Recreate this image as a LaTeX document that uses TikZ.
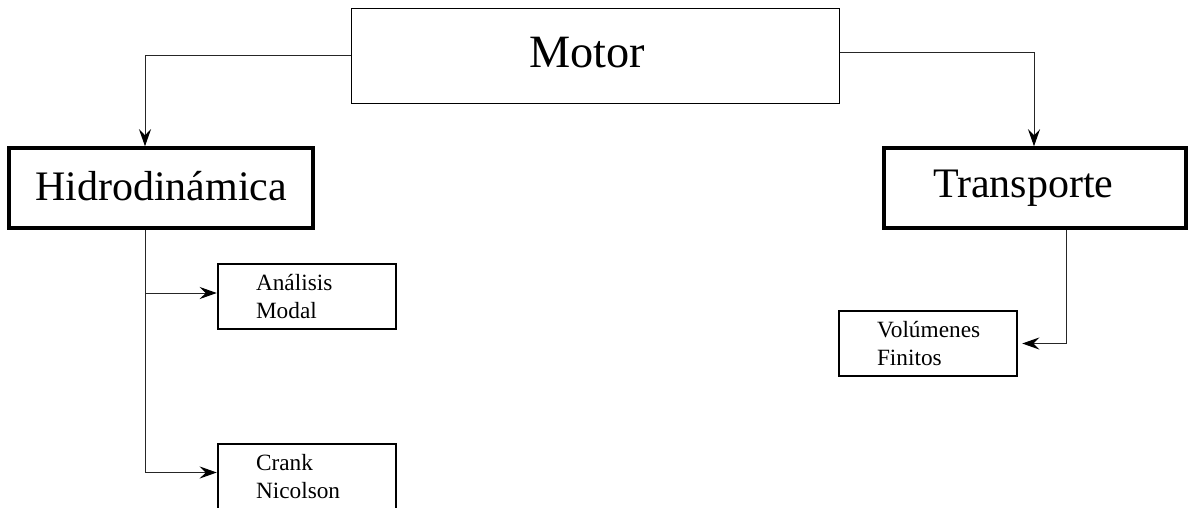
\documentclass[tikz,border=0pt]{standalone}
\usepackage{fontspec}
\setmainfont{Liberation Serif}
\usetikzlibrary{arrows.meta}
\begin{document}
\begin{tikzpicture}[x=1pt,y=-1pt,
  conn/.style={draw=black!85, line width=1pt},
  arr/.style={conn, -{Stealth[length=17pt,width=12pt,inset=6pt,color=black]}},
  bigbox/.style={draw, line width=3.5pt, rectangle, inner ysep=0pt, minimum height=80pt, font=\fontsize{42}{42}\selectfont},
  smallbox/.style={draw, line width=2.5pt, rectangle, inner ysep=0pt, inner xsep=38pt, text width=102pt, minimum width=178pt, minimum height=65pt, align=left, font=\fontsize{23.3}{28.5}\selectfont},
]
\useasboundingbox (0,0) rectangle (1188,507);
\node[draw, line width=1pt, rectangle, inner ysep=0pt, inner xsep=178pt, text width=132pt, align=left, minimum height=95pt, text height=32pt, text depth=9pt, font=\fontsize{46.3}{46.3}\selectfont] (motor) at (595,55.5) {Motor};
\node[bigbox, minimum width=304pt, text height=30pt, text depth=6pt] (hidro) at (161,188) {Hidrodinámica};
\node[bigbox, inner xsep=49pt, text width=204pt, align=left, text height=30pt, text depth=11pt] (trans) at (1035,188) {Transporte};
\node[smallbox] (analisis) at (307,296.5) {Análisis\\Modal};
\node[smallbox] (crank) at (307,476.5) {Crank\\Nicolson};
\node[smallbox] (vol) at (928,343.5) {Volúmenes\\Finitos};
\coordinate (ht) at ([xshift=-16pt]hidro.north);
\coordinate (me) at ([yshift=3.5pt]motor.east);
\coordinate (tt) at ([xshift=-1pt]trans.north);
\coordinate (hb) at ([xshift=-16pt]hidro.south);
\coordinate (aw) at ([yshift=3.5pt]analisis.west);
\coordinate (cw) at ([yshift=4pt]crank.west);
\coordinate (tb) at ([xshift=31pt]trans.south);
\draw[arr] (motor.west) -| (ht);
\draw[arr] (me) -| (tt);
\draw[arr] (hb) |- (cw);
\draw[arr] (hb |- aw) -- (aw);
\draw[arr, shorten >=4pt] (tb) |- (vol.east);
\end{tikzpicture}
\end{document}
